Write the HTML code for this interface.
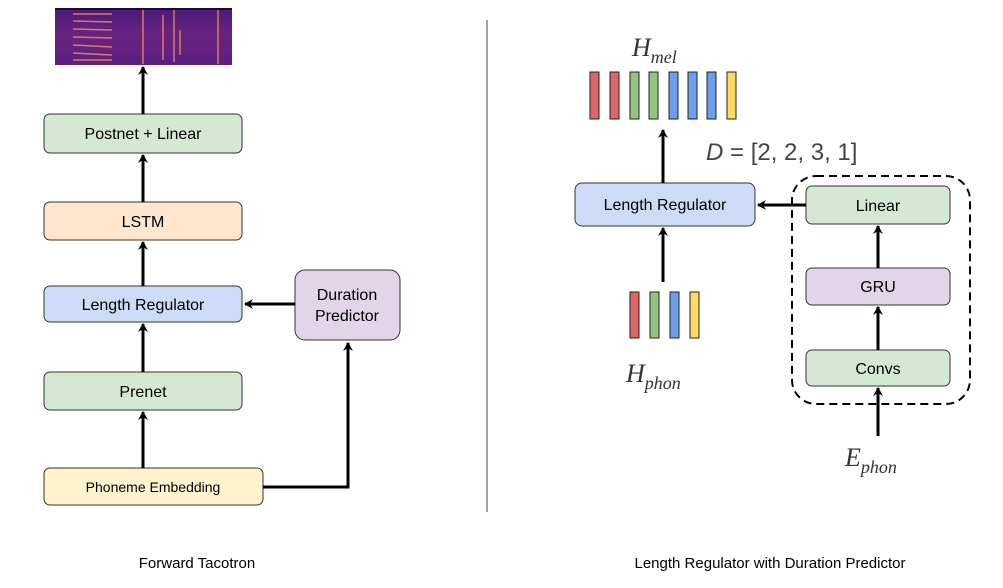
<!DOCTYPE html>
<html><head><meta charset="utf-8"><style>
html,body{margin:0;padding:0;background:#fff;}
svg text{font-family:"Liberation Sans",sans-serif;}
.m{font-family:"Liberation Serif",serif;font-style:italic;fill:#333;}
</style></head><body>
<svg width="1003" height="583" viewBox="0 0 1003 583" xmlns="http://www.w3.org/2000/svg">
<defs>
<marker id="a" markerWidth="10" markerHeight="10" refX="8" refY="5" orient="auto" markerUnits="userSpaceOnUse">
<path d="M0,0 L9,5 L0,10 L3,5 Z" fill="#000"/></marker>
<linearGradient id="sp" x1="0" y1="0" x2="0" y2="1">
<stop offset="0" stop-color="#4a1a7a"/><stop offset="0.5" stop-color="#6a2380"/><stop offset="1" stop-color="#5a1e82"/></linearGradient>
</defs>
<!-- spectrogram -->
<rect x="55" y="8" width="177" height="57" fill="url(#sp)"/>
<g stroke="#f08a5a" stroke-width="1.5" opacity="0.85">
<line x1="73" y1="14" x2="112" y2="14"/><line x1="73" y1="21" x2="112" y2="22"/><line x1="73" y1="29" x2="112" y2="30"/>
<line x1="73" y1="37" x2="112" y2="38"/><line x1="73" y1="45" x2="112" y2="47"/><line x1="73" y1="53" x2="112" y2="55"/>
<line x1="73" y1="60" x2="112" y2="60"/>
<line x1="143" y1="10" x2="143" y2="64"/><line x1="174" y1="10" x2="174" y2="62"/><line x1="180" y1="30" x2="180" y2="55"/>
<line x1="218" y1="10" x2="218" y2="64"/><line x1="163" y1="15" x2="163" y2="60"/>
</g>
<rect x="55" y="8" width="177" height="2" fill="#1a0a30"/>
<!-- left boxes -->
<g stroke="#333" stroke-width="1">
<rect x="44" y="114" width="198" height="39" rx="6" fill="#d5e8d4"/>
<rect x="44" y="202" width="198" height="38" rx="6" fill="#ffe6cc"/>
<rect x="44" y="286" width="198" height="36" rx="6" fill="#cddcf6"/>
<rect x="44" y="372" width="198" height="38" rx="6" fill="#d5e8d4"/>
<rect x="44" y="468" width="219" height="37" rx="6" fill="#fff2cc"/>
<rect x="295" y="270" width="105" height="70" rx="10" fill="#e1d5e7"/>
</g>
<g font-size="16" text-anchor="middle" fill="#000">
<text x="143" y="139">Postnet + Linear</text>
<text x="143" y="227">LSTM</text>
<text x="143" y="310">Length Regulator</text>
<text x="143" y="397">Prenet</text>
<text x="153" y="492" font-size="14">Phoneme Embedding</text>
<text x="347" y="300">Duration</text>
<text x="347" y="321">Predictor</text>
</g>
<g stroke="#000" stroke-width="3" fill="none" marker-end="url(#a)">
<line x1="143" y1="114" x2="143" y2="67"/>
<line x1="143" y1="202" x2="143" y2="155"/>
<line x1="143" y1="286" x2="143" y2="242"/>
<line x1="143" y1="372" x2="143" y2="324"/>
<line x1="143" y1="468" x2="143" y2="412"/>
<line x1="295" y1="304" x2="245" y2="304"/>
<polyline points="263,487 348,487 348,343"/>
</g>
<line x1="487" y1="20" x2="487" y2="512" stroke="#444" stroke-width="1"/>
<!-- right -->
<text class="m" x="632" y="56" font-size="26">H<tspan font-size="18" dy="7">mel</tspan></text>
<g stroke="#222" stroke-width="1">
<rect x="590" y="72" width="9" height="47" fill="#e06666"/>
<rect x="610" y="72" width="9" height="47" fill="#e06666"/>
<rect x="630" y="72" width="9" height="47" fill="#93c47d"/>
<rect x="649" y="72" width="9" height="47" fill="#93c47d"/>
<rect x="669" y="72" width="9" height="47" fill="#6d9eeb"/>
<rect x="688" y="72" width="9" height="47" fill="#6d9eeb"/>
<rect x="707" y="72" width="9" height="47" fill="#6d9eeb"/>
<rect x="727" y="72" width="9" height="47" fill="#ffd966"/>
<rect x="630" y="292" width="9" height="46" fill="#e06666"/>
<rect x="650" y="292" width="9" height="46" fill="#93c47d"/>
<rect x="670" y="292" width="9" height="46" fill="#6d9eeb"/>
<rect x="690" y="292" width="9" height="46" fill="#ffd966"/>
</g>
<text x="706" y="160" font-family="Liberation Serif,serif" font-size="24" fill="#444"><tspan font-style="italic">D</tspan> = [2, 2, 3, 1]</text>
<g stroke="#333" stroke-width="1">
<rect x="575" y="183" width="180" height="43" rx="7" fill="#cddcf6"/>
<rect x="806" y="186" width="144" height="38" rx="6" fill="#d5e8d4"/>
<rect x="806" y="268" width="144" height="37" rx="6" fill="#e1d5e7"/>
<rect x="806" y="350" width="144" height="36" rx="6" fill="#d5e8d4"/>
</g>
<rect x="792" y="176" width="178" height="228" rx="24" fill="none" stroke="#000" stroke-width="2" stroke-dasharray="8,5"/>
<g font-size="16" text-anchor="middle" fill="#000">
<text x="665" y="210">Length Regulator</text>
<text x="878" y="211">Linear</text>
<text x="878" y="292">GRU</text>
<text x="878" y="374">Convs</text>
</g>
<g stroke="#000" stroke-width="3" fill="none" marker-end="url(#a)">
<line x1="663" y1="183" x2="663" y2="130"/>
<line x1="663" y1="282" x2="663" y2="228"/>
<line x1="806" y1="205" x2="758" y2="205"/>
<line x1="878" y1="268" x2="878" y2="226"/>
<line x1="878" y1="350" x2="878" y2="307"/>
<line x1="878" y1="436" x2="878" y2="388"/>
</g>
<text class="m" x="626" y="382" font-size="26">H<tspan font-size="18" dy="7">phon</tspan></text>
<text class="m" x="845" y="466" font-size="26">E<tspan font-size="18" dy="7">phon</tspan></text>
<g font-size="15" text-anchor="middle" fill="#000">
<text x="197" y="568">Forward Tacotron</text>
<text x="770" y="568">Length Regulator with Duration Predictor</text>
</g>
</svg>
</body></html>
